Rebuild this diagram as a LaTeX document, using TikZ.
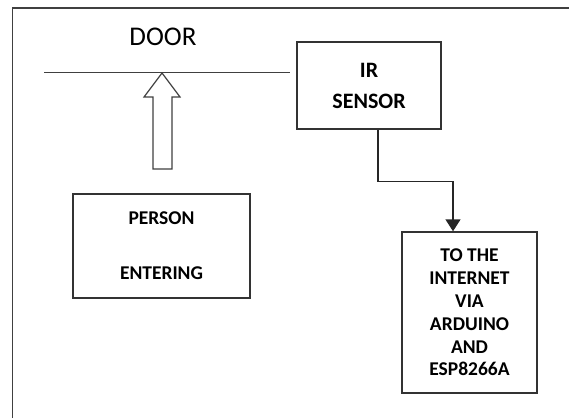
\documentclass[tikz,border=0pt]{standalone}
\usepackage{fontspec}
\setmainfont{Carlito}
\usetikzlibrary{arrows.meta,positioning}

\begin{document}
\begin{tikzpicture}[
    x=1pt,
    y=-1pt,
    box/.style={
        draw=black!80,
        line width=1.4pt,
        inner sep=0pt,
        align=center,
        font=\bfseries
    },
    wall/.style={line width=1pt, draw=black!75},
    arr/.style={-{Triangle[length=12pt,width=15pt]}, line width=1.4pt, draw=black!85}
]
\useasboundingbox (0,0) rectangle (569,418);

% outer frame
\draw[line width=1.8pt, black!75] (12.5,418) -- (12.5,8) -- (569,8);

% door and entering person
\node[font=\fontsize{27}{32}\selectfont] (door) at (163,37) {DOOR};
\draw[wall] (44,72) -- (290,72);
\draw[line width=1.2pt, black!75, fill=white]
    (153,169) -- (153,97) -- (144,97) -- (162,73) -- (180,97) -- (172,97) -- (172,169) -- cycle;

\node[box, minimum width=177pt, minimum height=104pt,
      font=\bfseries\fontsize{19.5}{24}\selectfont] (person) at (161.5,246)
{PERSON\\[31pt]ENTERING};

% sensor and output
\node[box, minimum width=144pt, minimum height=87pt,
      font=\bfseries\fontsize{22}{31}\selectfont] (ir) at (369,85.5)
{IR\\SENSOR};

\node[box, minimum width=135pt, minimum height=161pt,
      font=\bfseries\fontsize{19.5}{22.8}\selectfont] (net) at (469.5,312.5)
{TO THE\\INTERNET\\VIA\\ARDUINO\\AND\\ESP8266A};

\draw[arr] ([xshift=9pt]ir.south) -- ++(0,52) -| ([xshift=-16.5pt]net.north);

\end{tikzpicture}
\end{document}
